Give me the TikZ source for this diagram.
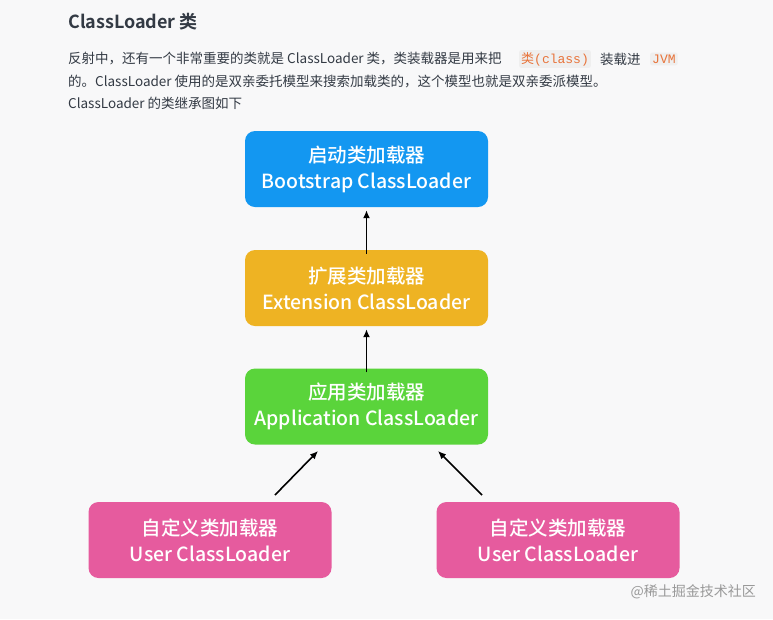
\documentclass[tikz,border=0pt]{standalone}
\usepackage{fontspec}
\setmainfont{Liberation Sans}
\newfontfamily\cjk{Noto Sans CJK SC}[BoldFont={Noto Sans CJK SC Bold}]
\newfontfamily\cjkm{Noto Sans CJK SC Medium}
\setmonofont{Liberation Mono}
\definecolor{bgc}{HTML}{F8F8F9}
\definecolor{txt}{HTML}{333A44}
\definecolor{codec}{HTML}{E8743B}
\definecolor{codebg}{HTML}{EFEFEF}
\definecolor{cblue}{HTML}{1397F1}
\definecolor{cyel}{HTML}{EEB323}
\definecolor{cgreen}{HTML}{5AD43B}
\definecolor{cpink}{HTML}{E65B9E}
\begin{document}
\begin{tikzpicture}[x=1pt,y=-1pt,
  box/.style={rounded corners=10pt,minimum width=243pt,minimum height=76pt,text=white,align=center,font=\cjkm\fontsize{19.5}{26}\selectfont,inner sep=0pt},
  arr/.style={-{Latex[length=8pt,width=7pt]},line width=1.6pt,black},
  para/.style={anchor=west,text=txt,font=\cjk\fontsize{13.5}{16}\selectfont,inner sep=0pt},
  code/.style={fill=codebg,text=codec,font=\ttfamily\fontsize{13}{15}\selectfont,inner sep=2pt,rounded corners=2pt}]
\usetikzlibrary{arrows.meta}
\fill[bgc] (0,0) rectangle (773,619);
\useasboundingbox (0,0) rectangle (773,619);
\node[para,font=\cjk\fontsize{18}{22}\selectfont\bfseries] (title) at (68,22) {ClassLoader 类};
\node[para] (l1) at (68,59) {反射中，还有一个非常重要的类就是 ClassLoader 类，类装载器是用来把};
\node[code,anchor=west] (c1) at (519,59) {\cjk 类\ttfamily(class)};
\node[para] (l1b) at (600,59) {装载进};
\node[code,anchor=west] (c2) at (650,59) {JVM};
\node[para] (l2) at (68,82) {的。ClassLoader 使用的是双亲委托模型来搜索加载类的，这个模型也就是双亲委派模型。};
\node[para] (l3) at (68,103) {ClassLoader 的类继承图如下};
\node[box,fill=cblue] (boot) at (366.5,169) {启动类加载器\\Bootstrap ClassLoader};
\node[box,fill=cyel] (ext) at (366.5,288) {扩展类加载器\\Extension ClassLoader};
\node[box,fill=cgreen] (app) at (366.5,406.5) {应用类加载器\\Application ClassLoader};
\node[box,fill=cpink] (u1) at (210,540) {自定义类加载器\\User ClassLoader};
\node[box,fill=cpink] (u2) at (558,540) {自定义类加载器\\User ClassLoader};
\draw[arr] ([yshift=-4pt]ext.north) -- ([yshift=-3pt]boot.south);
\draw[arr] ([yshift=-4pt]app.north) -- ([yshift=-3pt]ext.south);
\coordinate (a1) at (275,495); \coordinate (b1) at (318,451);
\coordinate (a2) at (482,495); \coordinate (b2) at (438,451);
\draw[arr] (a1) -- (b1);
\draw[arr] (a2) -- (b2);
\node[anchor=east,text=gray!80,font=\cjk\fontsize{14}{16}\selectfont,inner sep=0pt] (wm) at (756,592) {@稀土掘金技术社区};
\end{tikzpicture}
\end{document}
